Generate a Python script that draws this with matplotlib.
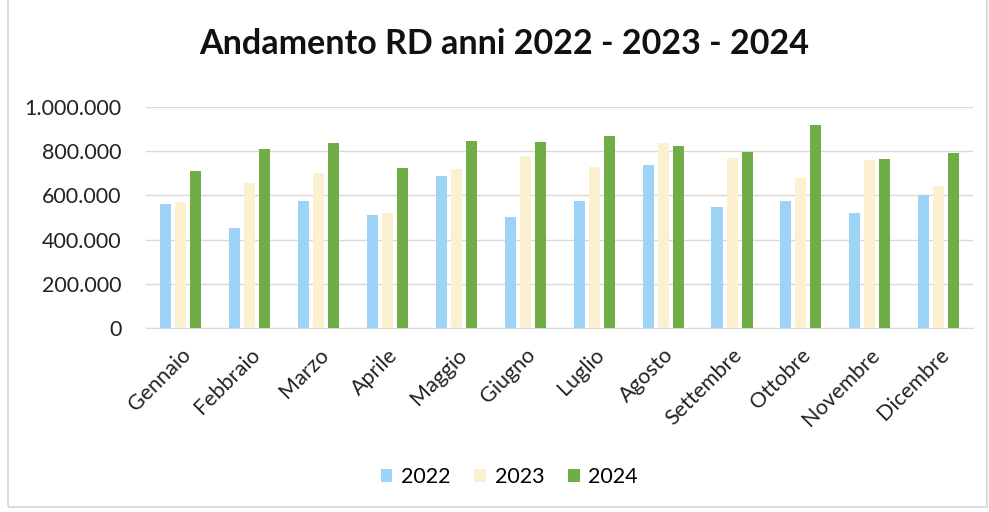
import matplotlib.pyplot as plt
import numpy as np

plt.rcParams['font.family'] = ['Lato', 'DejaVu Sans']

mesi = ["Gennaio", "Febbraio", "Marzo", "Aprile", "Maggio", "Giugno",
        "Luglio", "Agosto", "Settembre", "Ottobre", "Novembre", "Dicembre"]
anni = ["2022", "2023", "2024"]
rd_2022 = [560000, 451000, 576000, 513000, 689000, 501000,
           575000, 738000, 549000, 575000, 522000, 602000]
rd_2023 = [572000, 655000, 700000, 519000, 718000, 778000,
           727000, 839000, 768000, 677000, 760000, 643000]
rd_2024 = [712000, 811000, 836000, 723000, 846000, 843000,
           869000, 825000, 798000, 919000, 765000, 790000]
colori = ["#9DD3F6", "#FBF0D0", "#70AD47"]

fig = plt.figure(figsize=(9.89, 5.12), dpi=100)
ax = fig.add_axes([0.148, 0.359, 0.836, 0.432])

x = np.arange(len(mesi))
w = 0.16
step = 0.218
for i, (serie, col, lab) in enumerate(zip([rd_2022, rd_2023, rd_2024], colori, anni)):
    ax.bar(x + (i - 1) * step, serie, width=w, color=col, label=lab, zorder=3)

ax.set_xlim(-0.5, len(mesi) - 0.5)
ax.set_ylim(0, 1000000)
ax.set_yticks(np.arange(0, 1000001, 200000))
ax.set_yticklabels([f"{v:,}".replace(",", ".") for v in range(0, 1000001, 200000)])
ax.yaxis.grid(True, color="#d9d9d9", linewidth=1, zorder=0)
for s in ["top", "right", "left"]:
    ax.spines[s].set_visible(False)
ax.spines["bottom"].set_color("#d9d9d9")
ax.tick_params(axis="both", length=0, labelsize=15.5, colors="#222222")
ax.tick_params(axis="y", pad=18)
ax.set_xticks(x)
ax.set_xticklabels(mesi, rotation=45, ha="right", rotation_mode="anchor")
ax.tick_params(axis="x", pad=12)

fig.text(0.51, 0.915, "Andamento RD anni 2022 - 2023 - 2024", ha="center", va="center",
         fontsize=24.5, fontweight="bold", color="#111111")

fig.legend(loc="center", bbox_to_anchor=(0.515, 0.068), ncol=3, frameon=False,
           fontsize=15.5, handlelength=0.55, handleheight=0.55, handletextpad=0.4,
           columnspacing=1.1)

fig.patches.append(plt.Rectangle((0.008, 0.01), 0.99, 1.2, transform=fig.transFigure,
                                 fill=False, edgecolor="#dddddd", linewidth=1.5))

fig.savefig("out.png", dpi=100)
